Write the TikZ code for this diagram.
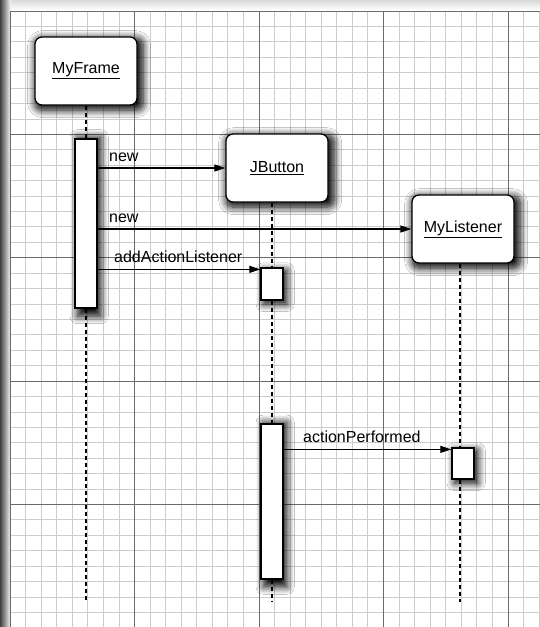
\documentclass[tikz,border=0pt]{standalone}
\usepackage{fontspec}
\setmainfont{Liberation Sans}
\usetikzlibrary{arrows.meta,shadows.blur}
\newlength{\du}
\setlength{\du}{1pt}
\definecolor{minorline}{rgb}{0.800000, 0.800000, 0.800000}
\definecolor{majorline}{rgb}{0.420000, 0.420000, 0.420000}
\tikzset{
  minorgrid/.style={draw=minorline, line width=0.8\du},
  majorgrid/.style={draw=majorline, line width=0.9\du},
  haze/.style={blur shadow={shadow xshift=3\du, shadow yshift=-3\du, shadow blur radius=7\du, shadow blur steps=12, shadow scale=1.06, shadow opacity=100}},
  objbox/.style={draw=black, line width=1.3\du, fill=white, rounded corners=7\du, minimum width=102\du, minimum height=68\du, inner sep=0pt, font=\fontsize{16}{19}\selectfont, haze},
  actbar/.style={draw=black, line width=1.3\du, fill=white, minimum width=22\du, inner sep=0pt, haze},
  lifeline/.style={line width=1.8\du, dash pattern=on 4\du off 3\du},
  msgarrow/.style={line width=1.1\du, -{Triangle[length=11pt,width=7pt]}},
  msglabel/.style={font=\fontsize{16}{19}\selectfont, inner sep=0pt, anchor=base west, pos=0}
}
\begin{document}
\begin{tikzpicture}[x=1\du,y=-1\du]
\useasboundingbox (0,0) rectangle (540,627);
\fill[white] (0,0) rectangle (540,627);
% page edge
\shade[left color=black!75, right color=white] (0,0) rectangle (11,627);
\shade[top color=black!15, bottom color=white] (11,0) rectangle (540,10);
% graph paper
\foreach \i in {0,...,34}
  \draw[minorgrid] ({10+15.56*\i},11) -- ({10+15.56*\i},627);
\foreach \j in {0,...,39}
  \draw[minorgrid] (10,{11+15.42*\j}) -- (540,{11+15.42*\j});
\foreach \i in {0,...,4}
  \draw[majorgrid] ({10+124.5*\i},11) -- ({10+124.5*\i},627);
\foreach \j in {0,...,4}
  \draw[majorgrid] (10,{11+123.4*\j}) -- (540,{11+123.4*\j});
% objects
\node[objbox] (MyFrame) at (86,71) {\underline{MyFrame}};
\node[objbox] (JButton) at (277,168) {\underline{JButton}};
\node[objbox] (MyListener) at (463,229) {\underline{MyListener}};
% activations
\node[actbar, minimum height=169\du] (framebar) at (86,223.5) {};
\node[actbar, minimum height=32\du] (buttonbar) at (272,284) {};
\node[actbar, minimum height=155\du] (buttonbarb) at (272,501.5) {};
\node[actbar, minimum height=31\du] (listenerbar) at (463,463.5) {};
\coordinate (frameend) at (86,602);
\coordinate (buttonend) at (272,602);
\coordinate (listenerend) at (460,602);
\coordinate (addin) at ([yshift=-2\du]buttonbar.north west);
\coordinate (actin) at ([yshift=-2\du]listenerbar.north west);
% lifelines
\draw[lifeline] (framebar.north |- MyFrame.south) -- (framebar.north);
\draw[lifeline] (framebar.south) -- (frameend);
\draw[lifeline] (buttonbar.north |- JButton.south) -- (buttonbar.north);
\draw[lifeline] (buttonbar.south) -- (buttonbarb.north);
\draw[lifeline] (buttonbarb.south) -- (buttonend);
\draw[lifeline] (listenerend |- MyListener.south) -- (listenerend |- listenerbar.north);
\draw[lifeline] (listenerend |- listenerbar.south) -- (listenerend);
% messages
\draw[msgarrow] (framebar.east |- JButton.west) -- node[msglabel, xshift=11\du, yshift=6.5\du] (newbutton) {new} (JButton.west);
\draw[msgarrow] (framebar.east |- MyListener.west) -- node[msglabel, xshift=11\du, yshift=6.5\du] (newlistener) {new} (MyListener.west);
\draw[msgarrow] (framebar.east |- addin) -- node[msglabel, xshift=16\du, yshift=6.5\du] (addlabel) {addActionListener} (addin);
\draw[msgarrow] (buttonbarb.east |- actin) -- node[msglabel, xshift=19\du, yshift=7\du] (actlabel) {actionPerformed} (actin);
\end{tikzpicture}
\end{document}
